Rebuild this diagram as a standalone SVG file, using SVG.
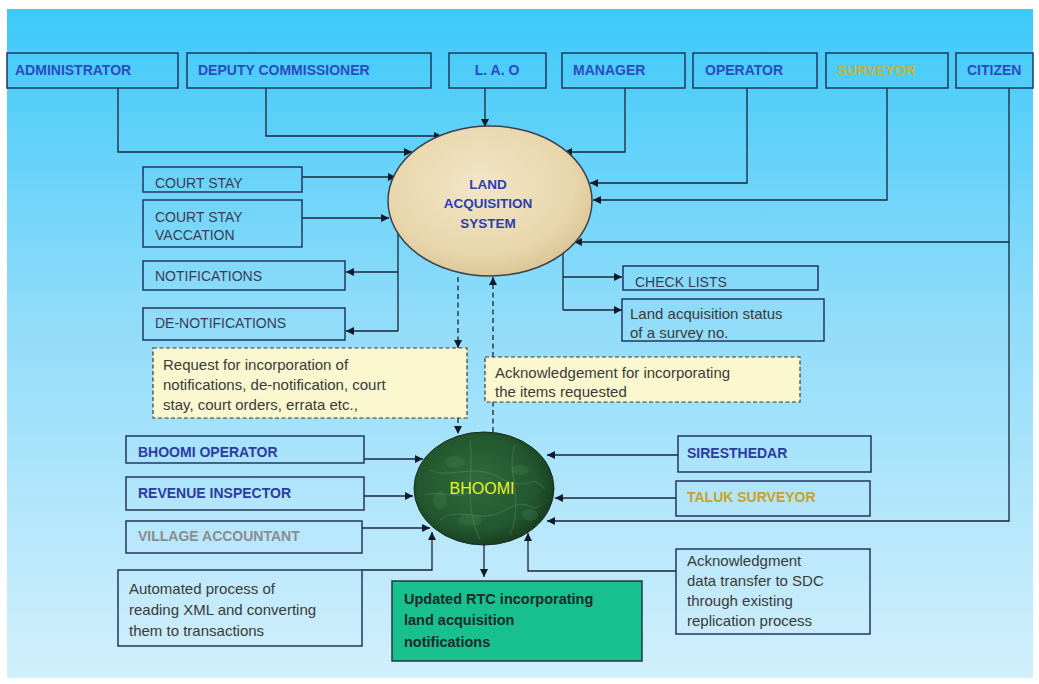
<svg xmlns="http://www.w3.org/2000/svg" width="1039" height="684" viewBox="0 0 1039 684">
<defs>
<linearGradient id="bg" x1="0" y1="0" x2="0" y2="1">
<stop offset="0" stop-color="#3dc9f9"/>
<stop offset="0.45" stop-color="#8fdcfa"/>
<stop offset="1" stop-color="#d2effc"/>
</linearGradient>
<radialGradient id="las" cx="0.45" cy="0.4" r="0.65">
<stop offset="0" stop-color="#f3e6c6"/>
<stop offset="0.7" stop-color="#e8d6ac"/>
<stop offset="1" stop-color="#d8c190"/>
</radialGradient>
<radialGradient id="bh" cx="0.45" cy="0.45" r="0.6">
<stop offset="0" stop-color="#2f6c3c"/>
<stop offset="0.7" stop-color="#23572e"/>
<stop offset="1" stop-color="#143a1e"/>
</radialGradient>
<marker id="ah" viewBox="0 0 10 10" refX="10" refY="5" markerWidth="9" markerHeight="8" markerUnits="userSpaceOnUse" orient="auto">
<path d="M0,0 L10,5 L0,10 z" fill="#111a28"/>
</marker>
</defs>
<style>
.box{fill:none;stroke:#233660;stroke-width:1.5}
.note{fill:#fbf8cf;stroke:#3d3d3d;stroke-width:1.2;stroke-dasharray:4,2.5}
.ln{fill:none;stroke:#1a2538;stroke-width:1.3}
.lnA{fill:none;stroke:#1a2538;stroke-width:1.3;marker-end:url(#ah)}
.dsh{fill:none;stroke:#1a2538;stroke-width:1.3;stroke-dasharray:5,3.5;marker-end:url(#ah)}
.hb{font-family:"Liberation Sans",Arial,sans-serif;font-weight:bold;font-size:14px;fill:#2c4bbf}
.hd{font-family:"Liberation Sans",Arial,sans-serif;font-weight:bold;font-size:14px;fill:#2c3c9e}
.g{font-family:"Liberation Sans",Arial,sans-serif;font-size:14px;fill:#3a3c55}
.t{font-family:"Liberation Sans",Arial,sans-serif;font-size:15px;fill:#3a3a3a}
</style>
<rect x="0" y="0" width="1039" height="684" fill="#ffffff"/>
<rect x="7" y="9" width="1026" height="669" fill="url(#bg)"/>

<g id="connectors">
<path class="lnA" d="M118,88 V152 H412"/>
<path class="lnA" d="M266,88 V136 H442"/>
<path class="lnA" d="M485,88 V127"/>
<path class="lnA" d="M625,88 V152 H564"/>
<path class="lnA" d="M747,88 V183 H590"/>
<path class="lnA" d="M887,88 V200 H593"/>
<path class="lnA" d="M1009,88 V242 H574"/>
<path class="lnA" d="M1009,242 V521 H547"/>
<path class="lnA" d="M302,177 H396"/>
<path class="lnA" d="M302,218 H389"/>
<path class="ln" d="M398,233 V331"/>
<path class="lnA" d="M398,272 H346"/>
<path class="lnA" d="M398,331 H346"/>
<path class="ln" d="M563,253 V310"/>
<path class="lnA" d="M563,277 H622"/>
<path class="lnA" d="M563,310 H622"/>
<path class="dsh" d="M458,277 V348"/>
<path class="dsh" d="M458,418 V434"/>
<path class="dsh" d="M493,357 V277"/>
<path class="ln" style="stroke-dasharray:5,3.5" d="M493,432 V402"/>
<path class="lnA" d="M364,459 H423"/>
<path class="lnA" d="M364,496 H413"/>
<path class="lnA" d="M362,528 H430"/>
<path class="lnA" d="M362,570 H432 V532"/>
<path class="lnA" d="M484,545 V577"/>
<path class="lnA" d="M678,455 H547"/>
<path class="lnA" d="M676,498 H555"/>
<path class="lnA" d="M676,571 H528 V533"/>
</g>

<g id="administrator"><rect class="box" x="7" y="53" width="171" height="35"/><text class="hb" x="15" y="75">ADMINISTRATOR</text></g>
<g id="deputy-commissioner"><rect class="box" x="187" y="53" width="244" height="35"/><text class="hb" x="198" y="75">DEPUTY COMMISSIONER</text></g>
<g id="lao"><rect class="box" x="449" y="53" width="97" height="35"/><text class="hb" x="497" y="75" text-anchor="middle">L. A. O</text></g>
<g id="manager"><rect class="box" x="562" y="53" width="123" height="35"/><text class="hb" x="573" y="75">MANAGER</text></g>
<g id="operator"><rect class="box" x="693" y="53" width="124" height="35"/><text class="hb" x="705" y="75">OPERATOR</text></g>
<g id="surveyor"><rect class="box" x="826" y="53" width="122" height="35"/><text class="hb" x="837" y="75" style="fill:#c2b43a">SURVEYOR</text></g>
<g id="citizen"><rect class="box" x="956" y="53" width="77" height="35"/><text class="hb" x="967" y="75">CITIZEN</text></g>

<g id="land-acquisition-system">
<ellipse cx="490" cy="201" rx="102" ry="75" fill="url(#las)" stroke="#3a4050" stroke-width="1.5"/>
<text class="hd" x="488" y="189" text-anchor="middle" style="font-size:13.5px;fill:#2a3fb2">LAND</text>
<text class="hd" x="488" y="208" text-anchor="middle" style="font-size:13.5px;fill:#2a3fb2">ACQUISITION</text>
<text class="hd" x="488" y="228" text-anchor="middle" style="font-size:13.5px;fill:#2a3fb2">SYSTEM</text>
</g>

<g id="court-stay"><rect class="box" x="143" y="167" width="159" height="25"/><text class="g" x="155" y="188">COURT STAY</text></g>
<g id="court-stay-vaccation"><rect class="box" x="143" y="200" width="159" height="47"/><text class="g" x="155" y="222">COURT  STAY</text><text class="g" x="155" y="240">VACCATION</text></g>
<g id="notifications"><rect class="box" x="143" y="261" width="202" height="29"/><text class="g" x="155" y="281">NOTIFICATIONS</text></g>
<g id="de-notifications"><rect class="box" x="143" y="308" width="202" height="32"/><text class="g" x="155" y="328">DE-NOTIFICATIONS</text></g>

<g id="check-lists"><rect class="box" x="623" y="266" width="195" height="24"/><text class="g" x="635" y="287">CHECK LISTS</text></g>
<g id="land-status"><rect class="box" x="622" y="299" width="202" height="42"/><text class="t" x="630" y="319">Land acquisition status</text><text class="t" x="630" y="338">of a survey no.</text></g>

<g id="request-note"><rect class="note" x="153" y="348" width="314" height="70"/>
<text class="t" x="163" y="370">Request for  incorporation of</text>
<text class="t" x="163" y="390">notifications, de-notification, court</text>
<text class="t" x="163" y="410">stay, court orders, errata etc.,</text></g>
<g id="ack-note"><rect class="note" x="485" y="357" width="315" height="45"/>
<text class="t" x="495" y="378">Acknowledgement for incorporating</text>
<text class="t" x="495" y="397">the items requested</text></g>

<g id="bhoomi">
<ellipse cx="484" cy="488.5" rx="70" ry="56.5" fill="url(#bh)" stroke="#1a2a1e" stroke-width="1"/>
<g fill="none" stroke="#8cc497" stroke-width="1.2" opacity="0.2">
<path d="M430,470 C450,480 470,462 500,478 S530,470 545,490"/>
<path d="M440,520 C460,505 480,525 505,510 S530,515 540,505"/>
<path d="M470,440 C475,470 462,500 480,540"/>
<path d="M515,445 C505,470 525,500 510,535"/>
<path d="M425,495 C445,490 455,500 470,492"/>
</g>
<g fill="#4f8f5c" opacity="0.25">
<ellipse cx="455" cy="462" rx="10" ry="6"/>
<ellipse cx="520" cy="470" rx="9" ry="5"/>
<ellipse cx="470" cy="520" rx="12" ry="6"/>
<ellipse cx="530" cy="515" rx="8" ry="6"/>
<ellipse cx="440" cy="500" rx="7" ry="9"/>
</g>
<text x="482" y="494" text-anchor="middle" style="font-family:'Liberation Sans',Arial,sans-serif;font-size:16px;fill:#eef222">BHOOMI</text>
</g>

<g id="bhoomi-operator"><rect class="box" x="126" y="436" width="238" height="27"/><text class="hd" x="138" y="457">BHOOMI OPERATOR</text></g>
<g id="revenue-inspector"><rect class="box" x="126" y="477" width="238" height="33"/><text class="hd" x="138" y="498">REVENUE INSPECTOR</text></g>
<g id="village-accountant"><rect class="box" x="126" y="521" width="236" height="32"/><text class="hd" x="138" y="541" style="fill:#8a8c90">VILLAGE ACCOUNTANT</text></g>
<g id="siresthedar"><rect class="box" x="678" y="436" width="193" height="36"/><text class="hd" x="687" y="458">SIRESTHEDAR</text></g>
<g id="taluk-surveyor"><rect class="box" x="676" y="481" width="194" height="35"/><text class="hd" x="687" y="502" style="fill:#c9a226">TALUK SURVEYOR</text></g>

<g id="automated"><rect class="box" x="118" y="570" width="244" height="76"/>
<text class="t" x="129" y="594">Automated process of</text>
<text class="t" x="129" y="615">reading XML and converting</text>
<text class="t" x="129" y="636">them to transactions</text></g>
<g id="updated-rtc"><rect x="392" y="581" width="250" height="80" fill="#17c08c" stroke="#1f3a40" stroke-width="1.5"/>
<text class="hd" x="404" y="604" style="font-size:14.5px;fill:#1d2a2a">Updated RTC incorporating</text>
<text class="hd" x="404" y="625" style="font-size:14.5px;fill:#1d2a2a">land acquisition</text>
<text class="hd" x="404" y="647" style="font-size:14.5px;fill:#1d2a2a">notifications</text></g>
<g id="ack-transfer"><rect class="box" x="676" y="549" width="194" height="85"/>
<text class="t" x="687" y="566">Acknowledgment</text>
<text class="t" x="687" y="586">data transfer to SDC</text>
<text class="t" x="687" y="606">through existing</text>
<text class="t" x="687" y="626">replication process</text></g>
</svg>
